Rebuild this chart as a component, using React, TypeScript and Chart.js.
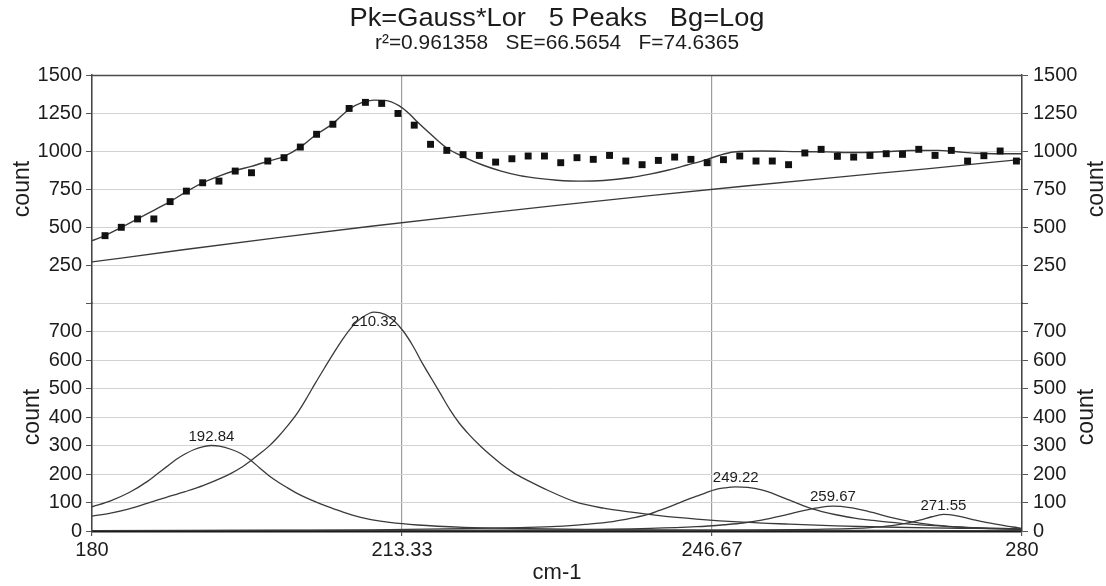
import React, { useEffect, useRef } from 'react';
import { Chart, registerables } from 'chart.js';

Chart.register(...registerables);

const FONT = '"Liberation Sans", Arial, sans-serif';

const titleText = 'Pk=Gauss*Lor   5 Peaks   Bg=Log';
const subtitleText = 'r²=0.961358   SE=66.5654   F=74.6365';
const xAxisTitle = 'cm-1';
const yAxisTitle = 'count';

const xTickValues = [180, 213.333, 246.667, 280];
const xTickLabels = ['180', '213.33', '246.67', '280'];
const topTicks = [0, 250, 500, 750, 1000, 1250, 1500];
const bottomTicks = [0, 100, 200, 300, 400, 500, 600, 700, 800];

// measured data points (top panel)
const sampleX = [
  181.4, 183.15, 184.9, 186.65, 188.4, 190.15, 191.9, 193.65, 195.4, 197.15,
  198.9, 200.65, 202.4, 204.15, 205.9, 207.65, 209.4, 211.15, 212.9, 214.65,
  216.4, 218.15, 219.9, 221.65, 223.4, 225.15, 226.9, 228.65, 230.4, 232.15,
  233.9, 235.65, 237.4, 239.15, 240.9, 242.65, 244.4, 246.15, 247.9, 249.65,
  251.4, 253.15, 254.9, 256.65, 258.4, 260.15, 261.9, 263.65, 265.4, 267.15,
  268.9, 270.65, 272.4, 274.15, 275.9, 277.65, 279.4,
];
const sampleCounts = [
  443, 498, 553, 553, 667, 736, 791, 802, 868, 857,
  934, 956, 1026, 1110, 1176, 1280, 1320, 1313, 1247, 1170,
  1044, 1004, 976, 971, 927, 949, 967, 967, 923, 956,
  945, 971, 934, 910, 938, 960, 945, 923, 943, 967,
  934, 934, 910, 987, 1011, 965, 960, 971, 982, 978,
  1011, 971, 1004, 934, 969, 1000, 934,
];

// fitted total curve (top panel)
const fitCurve: [number, number][] = [
  [180, 410], [181.4, 443], [183.15, 498], [184.9, 553], [186.65, 610], [188.4, 667],
  [190.15, 733], [191.9, 791], [193.65, 835], [195.4, 872], [197.15, 899], [198.9, 932],
  [200.65, 965], [202.4, 1026], [204.15, 1110], [205.9, 1180], [207.65, 1275], [209, 1318],
  [210.3, 1335], [211.5, 1333], [213, 1298], [214.2, 1240], [215, 1190], [216.7, 1095],
  [218.2, 1018], [220, 960], [222, 908], [224, 868], [226, 838], [228, 820], [230, 808],
  [232.5, 802], [235, 806], [238, 826], [240, 848], [242, 875], [244, 908], [246, 942],
  [247.5, 972], [249, 993], [252, 1000], [256, 996], [259, 994], [262, 990], [265, 995],
  [268, 1003], [271, 1004], [273, 995], [275, 985], [277, 982], [280, 982],
];

// logarithmic background (top panel)
const bgCurve: [number, number][] = [
  [180, 270], [190, 352], [200, 430], [210, 505], [220, 575], [230, 642],
  [240, 706], [250, 768], [260, 827], [270, 884], [280, 945],
];

// individual peaks (bottom panel)
const peak1: [number, number][] = [
  [180, 85], [182, 106], [184, 135], [186, 175], [187, 200], [188, 225], [189, 250], [190, 270],
  [191, 286], [192, 296], [192.84, 300], [193.7, 298], [195, 286], [196, 272], [197, 250],
  [198, 222], [199, 195], [200, 172], [201, 152], [202, 133], [203, 117], [204, 103], [205, 90],
  [206, 78], [207, 66], [208, 56], [209, 47], [210, 40], [212, 30], [215, 21], [220, 13],
  [225, 9], [235, 5], [250, 3], [265, 2], [280, 1],
];
const peak2: [number, number][] = [
  [180, 52], [182, 63], [184, 78], [186, 98], [188, 118], [190, 138], [192, 160], [194, 187],
  [195, 203], [196, 222], [197, 245], [198, 270], [199, 297], [200, 330], [201, 368], [202, 410],
  [203, 462], [204, 518], [205, 572], [206, 625], [207, 675], [208, 718], [209, 748], [210.32, 768],
  [211.5, 760], [212.5, 737], [213.5, 700], [214.5, 650], [215.5, 590], [216.5, 535], [217.5, 480],
  [218.5, 425], [219.5, 378], [220.5, 340], [221.7, 300], [223, 262], [224, 235], [225.3, 205],
  [227, 175], [229, 143], [232, 102], [235, 80], [238, 66], [241, 54], [245, 42], [250, 31],
  [255, 24], [260, 18], [265, 14], [270, 11], [275, 9], [280, 7],
];
const peak3: [number, number][] = [
  [180, 1], [200, 3], [210, 4], [220, 8], [226, 12], [230, 16], [233, 23], [236, 33], [238, 45],
  [240, 60], [241, 72], [242, 84], [243, 97], [244, 110], [245, 122], [246, 134], [247, 145],
  [248, 151], [249.22, 155], [250.5, 153], [252, 144], [253.5, 128], [255, 108], [256, 95],
  [257.2, 80], [258.5, 68], [260, 57], [262, 45], [264, 37], [267, 27], [270, 20], [274, 13], [280, 7],
];
const peak4: [number, number][] = [
  [180, 1], [210, 2], [230, 4], [240, 9], [245, 15], [248, 22], [250, 28], [252, 38], [254, 52],
  [256, 68], [258, 81], [259.67, 87], [261.5, 82], [263, 72], [264.5, 60], [266, 47], [268, 33],
  [270, 23], [273, 14], [276, 9], [280, 5],
];
const peak5: [number, number][] = [
  [180, 1], [230, 1], [250, 3], [258, 6], [262, 9], [264, 13], [266, 19], [267.5, 27], [269, 38],
  [270.3, 50], [271.55, 58], [273, 53], [274.5, 42], [276, 31], [277.5, 22], [279, 14], [280, 10],
];

const peakCenters = [192.84, 210.32, 249.22, 259.67, 271.55];
const peakHeights = [300, 768, 155, 87, 58];
const peakLabels = ['192.84', '210.32', '249.22', '259.67', '271.55'];

const TEXT = '#1c1c1c';
const LINE = '#3a3a3a';

function drawStretched(ctx: CanvasRenderingContext2D, text: string, cx: number, y: number, font: string, width: number) {
  ctx.save();
  ctx.font = font;
  const w = ctx.measureText(text).width;
  let s = width / w;
  s = Math.max(0.85, Math.min(1.2, s));
  ctx.translate(cx, y);
  ctx.scale(s, 1);
  ctx.textAlign = 'center';
  ctx.textBaseline = 'alphabetic';
  ctx.fillText(text, 0, 0);
  ctx.restore();
}

const textPlugin = {
  id: 'textPlugin',
  afterDraw(chart: any) {
    const ctx: CanvasRenderingContext2D = chart.ctx;
    const ca = chart.chartArea;
    const cx = (ca.left + ca.right) / 2;
    const xs = chart.scales.x;
    const y1 = chart.scales.y1;
    const y2 = chart.scales.y2;
    ctx.save();
    // top border
    ctx.strokeStyle = '#4a4a4a';
    ctx.lineWidth = 1.5;
    ctx.beginPath();
    ctx.moveTo(ca.left, ca.top + 0.5);
    ctx.lineTo(ca.right, ca.top + 0.5);
    ctx.stroke();

    ctx.fillStyle = TEXT;
    drawStretched(ctx, titleText, cx, 26, `25px ${FONT}`, 415);
    drawStretched(ctx, subtitleText, cx, 49, `20px ${FONT}`, 364);

    ctx.font = `22px ${FONT}`;
    ctx.textAlign = 'center';
    ctx.textBaseline = 'middle';
    ctx.fillText(xAxisTitle, cx, 573);

    const yTitle = (x: number, y: number) => {
      ctx.save();
      ctx.translate(x, y);
      ctx.rotate(-Math.PI / 2);
      ctx.font = `23px ${FONT}`;
      ctx.textAlign = 'center';
      ctx.textBaseline = 'middle';
      ctx.fillText(yAxisTitle, 0, 0);
      ctx.restore();
    };
    yTitle(ca.left - 69, (y1.top + y1.bottom) / 2);
    yTitle(ca.left - 59, (y2.top + y2.bottom) / 2);
    yTitle(ca.right + 75, (y1.top + y1.bottom) / 2);
    yTitle(ca.right + 65, (y2.top + y2.bottom) / 2);

    ctx.font = `15px ${FONT}`;
    ctx.textAlign = 'center';
    ctx.textBaseline = 'middle';
    peakCenters.forEach((c, i) => {
      const px = xs.getPixelForValue(c);
      let py = y2.getPixelForValue(peakHeights[i]) - 9;
      py = Math.max(py, y2.top + 19);
      ctx.fillText(peakLabels[i], px, py);
    });
    ctx.restore();
  },
};

const toXY = (arr: [number, number][]) => arr.map(([x, y]) => ({ x, y }));

export default function App() {
  const ref = useRef<HTMLCanvasElement | null>(null);

  useEffect(() => {
    if (!ref.current) return;
    const tickFont = { family: FONT, size: 20 };
    const lineDs = (data: [number, number][], axis: string, width = 1.3) => ({
      data: toXY(data),
      yAxisID: axis,
      xAxisID: 'x',
      borderColor: LINE,
      borderWidth: width,
      pointRadius: 0,
      fill: false,
      cubicInterpolationMode: 'monotone' as const,
      showLine: true,
    });
    const yScale = (pos: string, stack: string, min: number, max: number, ticks: number[], width: number, hideVal: number, draw: boolean) => ({
      type: 'linear' as const,
      position: pos,
      stack,
      stackWeight: 1,
      min,
      max,
      afterBuildTicks: (s: any) => {
        s.ticks = ticks.map((v) => ({ value: v }));
      },
      afterFit: (s: any) => {
        s.width = width;
      },
      ticks: {
        callback: (v: any) => (v === hideVal ? '' : String(v)),
        font: tickFont,
        color: TEXT,
        padding: pos === 'left' ? 4 : 5,
        autoSkip: false,
      },
      grid: {
        drawOnChartArea: draw,
        color: '#d2d2d2',
        lineWidth: 1,
        tickLength: 6,
        tickColor: '#555',
        tickWidth: 1,
      },
      border: { display: true, color: '#444', width: 1.5 },
    });

    const chart = new Chart(ref.current, {
      type: 'line',
      data: {
        datasets: [
          {
            data: sampleX.map((x, i) => ({ x, y: sampleCounts[i] })),
            yAxisID: 'y1',
            xAxisID: 'x',
            showLine: false,
            pointStyle: 'rect',
            pointRadius: 4.9,
            pointBackgroundColor: '#111',
            pointBorderWidth: 0,
            borderColor: '#111',
          } as any,
          lineDs(fitCurve, 'y1', 1.4),
          lineDs(bgCurve, 'y1', 1.3),
          lineDs(peak1, 'y2'),
          lineDs(peak2, 'y2'),
          lineDs(peak3, 'y2'),
          lineDs(peak4, 'y2'),
          lineDs(peak5, 'y2'),
        ],
      },
      options: {
        animation: false,
        responsive: false,
        maintainAspectRatio: false,
        layout: { padding: { top: 75, left: 0, right: 0, bottom: 0 } },
        plugins: {
          legend: { display: false },
          tooltip: { enabled: false },
          title: { display: false },
        },
        scales: {
          x: {
            type: 'linear',
            position: 'bottom',
            min: 180,
            max: 280,
            afterBuildTicks: (s: any) => {
              s.ticks = xTickValues.map((v) => ({ value: v }));
            },
            afterFit: (s: any) => {
              s.height = 55;
            },
            ticks: {
              callback: (_v: any, i: number) => xTickLabels[i],
              font: tickFont,
              color: TEXT,
              padding: 2,
              maxRotation: 0,
              autoSkip: false,
            },
            grid: {
              color: '#9c9c9c',
              lineWidth: 1.2,
              tickLength: 5,
              tickColor: '#555',
            },
            border: { display: true, color: '#1a1a1a', width: 2.5 },
          },
          // left stack is laid out in reverse order: the later key ends up on top
          y2: yScale('left', 'L', 0, 800, bottomTicks, 92, 800, true),
          y1: yScale('left', 'L', 0, 1500, topTicks, 92, 0, true),
          y1r: yScale('right', 'R', 0, 1500, topTicks, 84, 0, false),
          y2r: yScale('right', 'R', 0, 800, bottomTicks, 84, 800, false),
        } as any,
      },
      plugins: [textPlugin],
    });
    return () => chart.destroy();
  }, []);

  return (
    <div style={{ position: 'fixed', left: 0, top: 0, width: 1106, height: 586, background: '#fff' }}>
      <canvas ref={ref} width={1106} height={586} style={{ display: 'block', width: 1106, height: 586 }} />
    </div>
  );
}
